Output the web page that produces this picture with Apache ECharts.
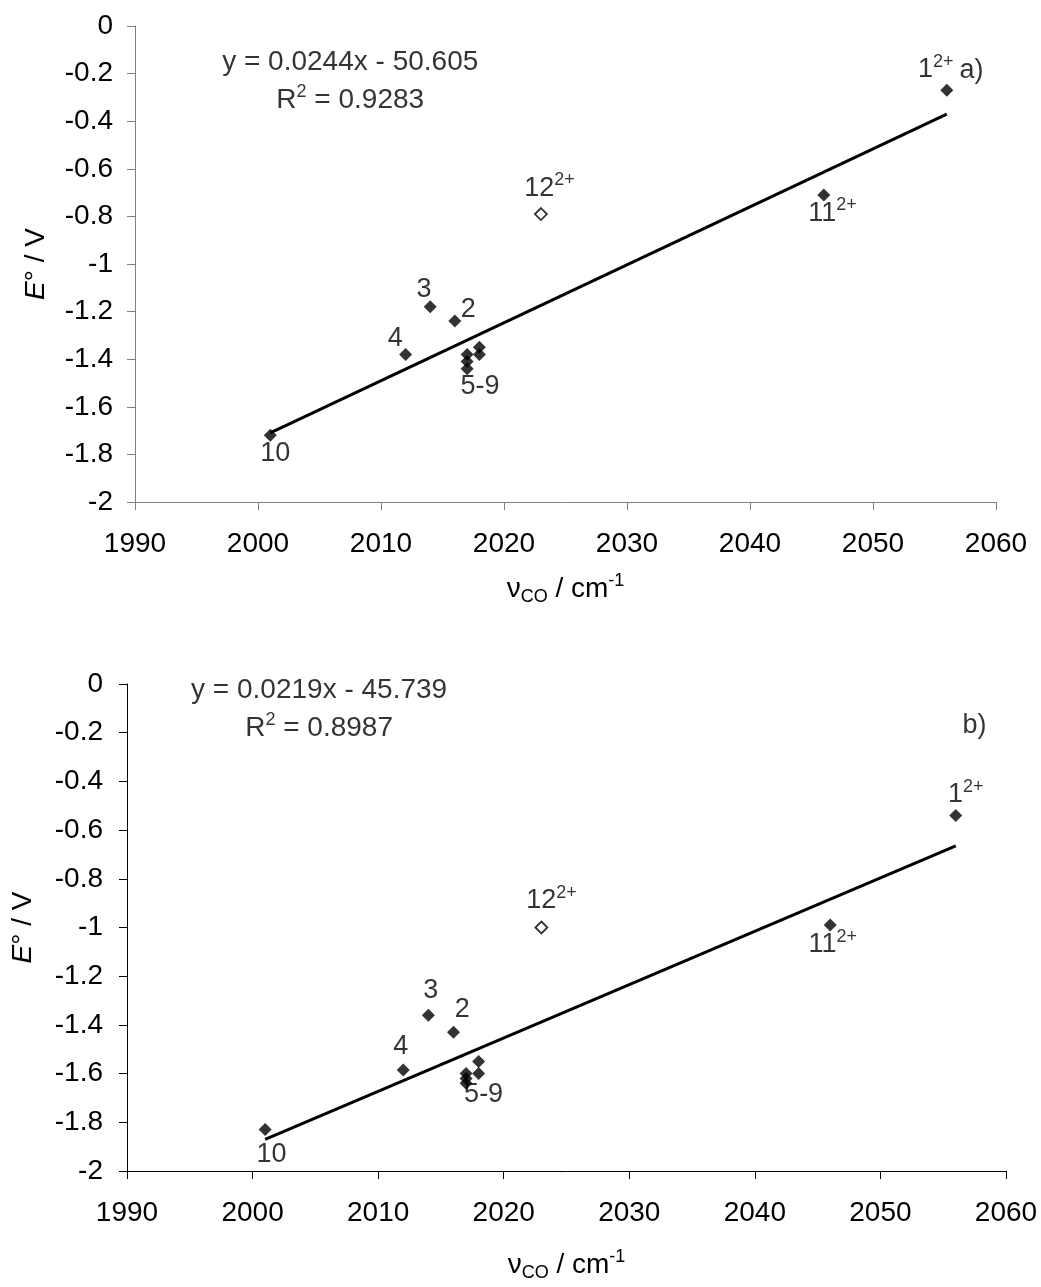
<!DOCTYPE html>
<html>
<head>
<meta charset="utf-8">
<script src="https://cdn.jsdelivr.net/npm/echarts@6/dist/echarts.min.js"></script>
<style>
html,body{margin:0;padding:0;background:#fff;}
#chart{width:1041px;height:1287px;}
</style>
</head>
<body>
<div id="chart"></div>
<script>
// ---- data ----
const nuCO = [2056, 2046, 2014, 2016, 2012, 2017, 2017, 2017, 2018, 2018, 2001];
const E_a = [-0.27, -0.71, -1.18, -1.24, -1.38, -1.38, -1.41, -1.44, -1.35, -1.38, -1.72];
const E_b = [-0.54, -0.99, -1.36, -1.43, -1.585, -1.60, -1.62, -1.64, -1.55, -1.60, -1.83];
const open_a = [[2023, -0.79]];
const open_b = [[2023, -1.00]];
const fit_a = [[2001, -1.71], [2056, -0.37]];
const fit_b = [[2001, -1.87], [2056, -0.665]];
const eq_a = ['y = 0.0244x - 50.605', 'R{s|2} = 0.9283'];
const eq_b = ['y = 0.0219x - 45.739', 'R{s|2} = 0.8987'];
// annotation texts with anchor in data units
const labels_a = [
  ['1{s|2+}', 2055.1, -0.185], ['a)', 2058.0, -0.189], ['11{s|2+}', 2046.7, -0.786],
  ['12{s|2+}', 2023.7, -0.681], ['3', 2013.5, -1.109], ['2', 2017.1, -1.190],
  ['4', 2011.15, -1.312], ['5-9', 2018.05, -1.516], ['10', 2001.4, -1.798]
];
const labels_b = [
  ['1{s|2+}', 2056.8, -0.456], ['b)', 2057.5, -0.172], ['11{s|2+}', 2046.2, -1.072],
  ['12{s|2+}', 2023.8, -0.891], ['3', 2014.2, -1.257], ['2', 2016.7, -1.336],
  ['4', 2011.8, -1.490], ['5-9', 2018.4, -1.688], ['10', 2001.5, -1.934]
];
const eqAnchor_a = [2007.5, -0.151, -0.311];
const eqAnchor_b = [2005.3, -0.025, -0.181];
const xRange = [1990, 2060, 10];
const yRange = [-2, 0, 0.2];

const FONT = '"Liberation Sans", Arial, sans-serif';
const chart = echarts.init(document.getElementById('chart'), null, {renderer: 'canvas'});

function axes(idx, axisColor, yGap, yMargin, xGap) {
  const x = {
    type: 'value', gridIndex: idx, min: xRange[0], max: xRange[1], interval: xRange[2],
    axisLine: {show: true, onZero: false, lineStyle: {color: axisColor, width: 1}},
    axisTick: {show: true, inside: false, length: 8, lineStyle: {color: axisColor}},
    splitLine: {show: false},
    axisLabel: {color: '#000', fontSize: 28, fontFamily: FONT, margin: 28,
      formatter: v => String(Math.round(v))},
    name: 'ν{sub|CO} / cm{sup|-1}', nameLocation: 'middle', nameGap: xGap,
    nameTextStyle: {color: '#000', fontSize: 28, fontFamily: FONT, lineHeight: 34,
      rich: {
        sub: {fontSize: 18, lineHeight: 18, verticalAlign: 'bottom', fontFamily: FONT, color: '#000'},
        sup: {fontSize: 18, lineHeight: 18, verticalAlign: 'top', fontFamily: FONT, color: '#000'}
      }}
  };
  const y = {
    type: 'value', gridIndex: idx, min: yRange[0], max: yRange[1], interval: yRange[2],
    axisLine: {show: true, onZero: false, lineStyle: {color: axisColor, width: 1}},
    axisTick: {show: true, inside: false, length: 8, lineStyle: {color: axisColor}},
    splitLine: {show: false},
    axisLabel: {color: '#000', fontSize: 28, fontFamily: FONT, margin: yMargin,
      formatter: v => String(+v.toFixed(1))},
    name: '{i|E}° / V', nameLocation: 'middle', nameGap: yGap, nameRotate: 90,
    nameTextStyle: {color: '#000', fontSize: 28, fontFamily: FONT,
      rich: {i: {fontStyle: 'italic', fontSize: 28, fontFamily: FONT, color: '#000'}}}
  };
  return [x, y];
}

const [xa, ya] = axes(0, '#808080', 85, 22, 70);
const [xb, yb] = axes(1, '#000', 90, 24, 77);

const richSup = {s: {fontSize: 18, lineHeight: 18, verticalAlign: 'top', fontFamily: FONT, color: '#000'}};

function labelSeries(idx, labels, size) {
  return {
    type: 'scatter', xAxisIndex: idx, yAxisIndex: idx, silent: true, z: 10,
    symbol: 'circle', symbolSize: 1, itemStyle: {color: 'transparent'},
    data: labels.map(l => ({value: [l[1], l[2]], label: {formatter: l[0]}})),
    label: {show: true, position: 'inside', color: '#000', fontSize: size, lineHeight: 34,
      fontFamily: FONT, align: 'center', verticalAlign: 'middle', rich: richSup}
  };
}
function eqLabels(eq, anc) {
  return [[eq[0], anc[0], anc[1]], [eq[1], anc[0], anc[2]]];
}
function pointSeries(idx, ys) {
  return {
    type: 'scatter', xAxisIndex: idx, yAxisIndex: idx, silent: true, z: 5,
    symbol: 'diamond', symbolSize: 13, itemStyle: {color: '#000'},
    data: nuCO.map((x, i) => [x, ys[i]])
  };
}
function openSeries(idx, pts) {
  return {
    type: 'scatter', xAxisIndex: idx, yAxisIndex: idx, silent: true, z: 5,
    symbol: 'diamond', symbolSize: 12,
    itemStyle: {color: '#fff', borderColor: '#000', borderWidth: 1.8},
    data: pts
  };
}
function fitSeries(idx, pts) {
  return {
    type: 'line', xAxisIndex: idx, yAxisIndex: idx, silent: true, z: 4,
    symbol: 'none', data: pts, lineStyle: {color: '#000', width: 3}
  };
}

chart.setOption({
  backgroundColor: '#fff',
  animation: false,
  grid: [
    {left: 135, top: 26, width: 861, height: 476, containLabel: false, outerBoundsMode: 'none'},
    {left: 127, top: 684, width: 879, height: 487, containLabel: false, outerBoundsMode: 'none'}
  ],
  xAxis: [xa, xb],
  yAxis: [ya, yb],
  series: [
    fitSeries(0, fit_a), pointSeries(0, E_a), openSeries(0, open_a),
    labelSeries(0, labels_a, 27), labelSeries(0, eqLabels(eq_a, eqAnchor_a), 28),
    fitSeries(1, fit_b), pointSeries(1, E_b), openSeries(1, open_b),
    labelSeries(1, labels_b, 27), labelSeries(1, eqLabels(eq_b, eqAnchor_b), 28)
  ]
});
</script>
</body>
</html>
